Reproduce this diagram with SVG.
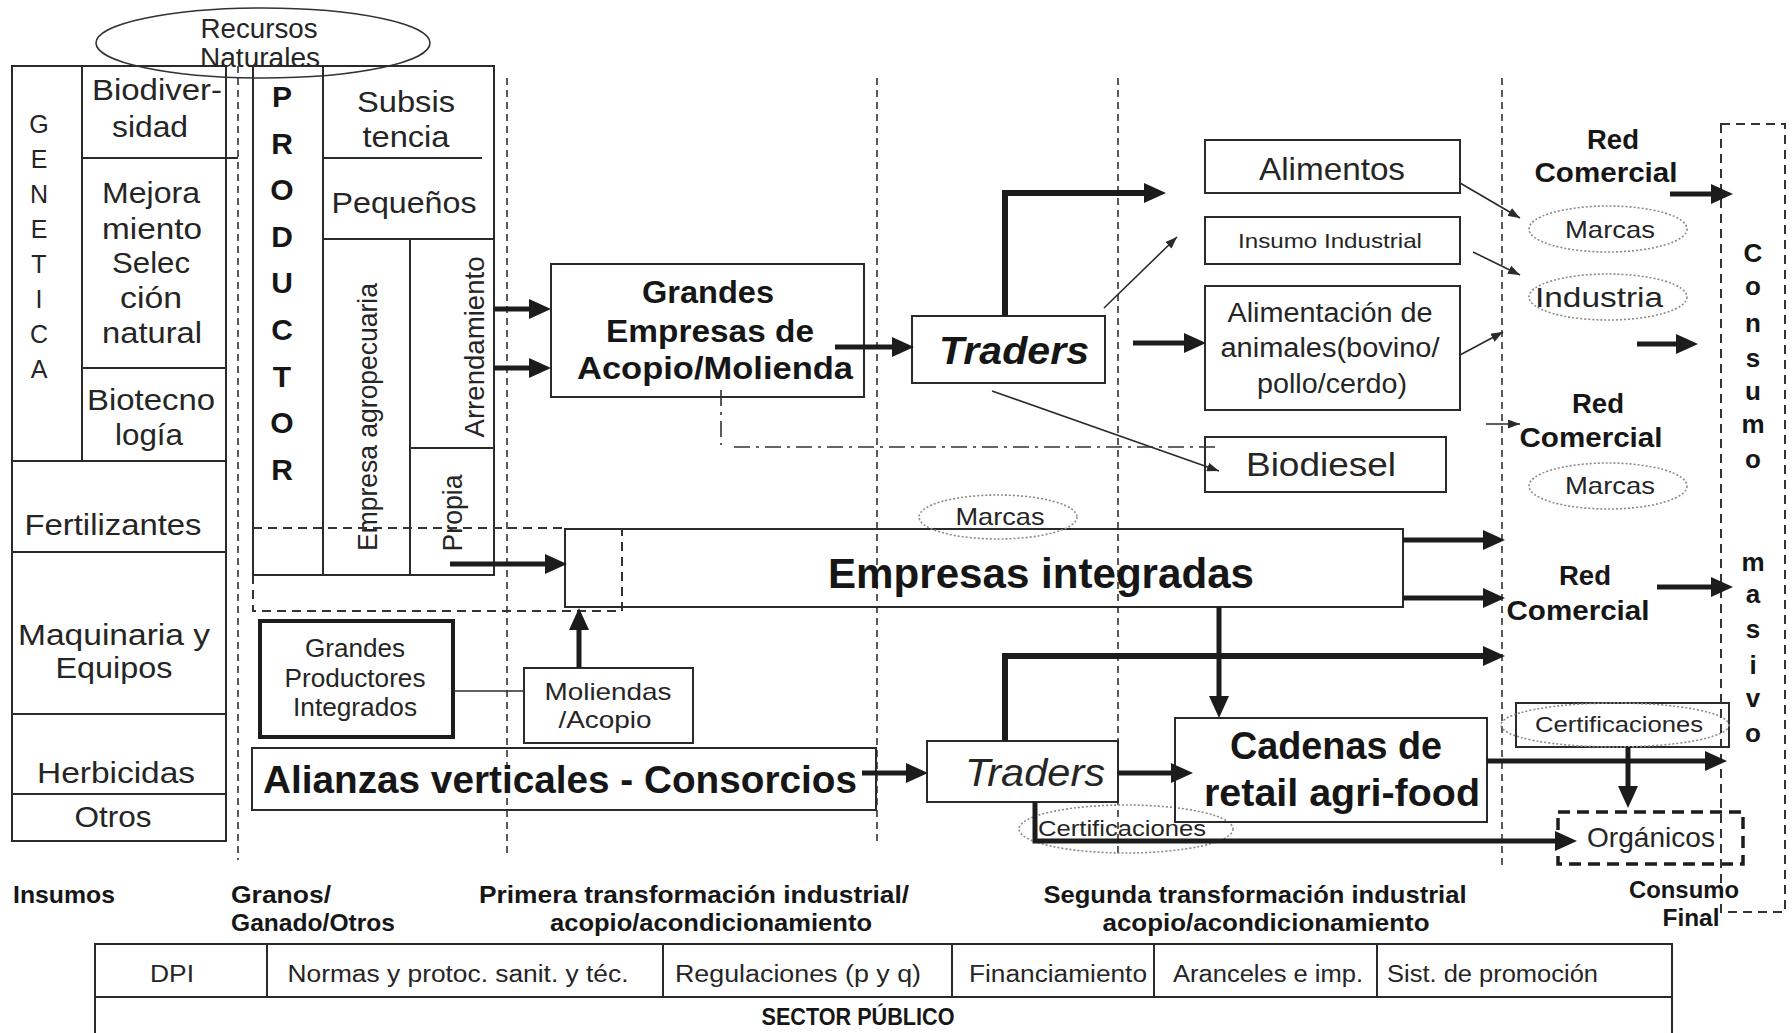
<svg xmlns="http://www.w3.org/2000/svg" width="1792" height="1033" viewBox="0 0 1792 1033">
<style>
text{font-family:"Liberation Sans",Arial,sans-serif;fill:#252525}
.b{font-weight:bold;fill:#161616}
.m{text-anchor:middle}
.box{fill:none;stroke:#2a2a2a;stroke-width:2}
.div{fill:none;stroke:#333;stroke-width:1.6;stroke-dasharray:7 5}
.thick{fill:none;stroke:#1c1c1c;stroke-width:6}
.med{fill:none;stroke:#1c1c1c;stroke-width:5}
.thin{fill:none;stroke:#2a2a2a;stroke-width:1.6}
.dot{fill:none;stroke:#8a8a8a;stroke-width:1.6;stroke-dasharray:2 2}
.t30{font-size:30px}
.t25{font-size:25px}
.cell{font-size:23px}
.lab{font-size:24px;font-weight:bold;fill:#161616}
.rc{font-size:27px;font-weight:bold;fill:#161616}
</style>
<defs>
<marker id="ab" viewBox="0 0 22 20" refX="15" refY="10" markerWidth="22" markerHeight="20" markerUnits="userSpaceOnUse" orient="auto"><path d="M0,0 L22,10 L0,20 z" fill="#1c1c1c"/></marker>
<marker id="as" viewBox="0 0 12 9" refX="12" refY="4.5" markerWidth="12" markerHeight="9" markerUnits="userSpaceOnUse" orient="auto"><path d="M0,0 L12,4.5 L0,9 z" fill="#2a2a2a"/></marker>
</defs>
<rect x="0" y="0" width="1792" height="1033" fill="#fff"/>

<g id="stage-dividers">
<path class="div" d="M238,66 V860 M507,78 V853 M877,78 V842 M1118,78 V853 M1502,78 V866"/>
</g>

<g id="insumos">
<rect class="box" x="12" y="66" width="214" height="775"/>
<path class="box" d="M82,66 V461 M82,158 H238 M82,368 H226 M12,461 H226 M12,552 H226 M12,714 H226 M12,794 H226"/>
<g class="t25" fill="#333">
<text x="39" y="133" class="m">G</text><text x="39" y="168" class="m">E</text><text x="39" y="203" class="m">N</text><text x="39" y="238" class="m">E</text><text x="39" y="273" class="m">T</text><text x="39" y="308" class="m">I</text><text x="39" y="343" class="m">C</text><text x="39" y="378" class="m">A</text>
</g>
<g class="t30">
<text x="157" y="100" class="m" textLength="130" lengthAdjust="spacingAndGlyphs">Biodiver-</text>
<text x="150" y="137" class="m" textLength="76" lengthAdjust="spacingAndGlyphs">sidad</text>
<text x="151" y="203" class="m" textLength="98" lengthAdjust="spacingAndGlyphs">Mejora</text>
<text x="152" y="239" class="m" textLength="100" lengthAdjust="spacingAndGlyphs">miento</text>
<text x="151" y="273" class="m" textLength="78" lengthAdjust="spacingAndGlyphs">Selec</text>
<text x="151" y="308" class="m" textLength="62" lengthAdjust="spacingAndGlyphs">ción</text>
<text x="152" y="343" class="m" textLength="100" lengthAdjust="spacingAndGlyphs">natural</text>
<text x="151" y="410" class="m" textLength="128" lengthAdjust="spacingAndGlyphs">Biotecno</text>
<text x="149" y="445" class="m" textLength="68" lengthAdjust="spacingAndGlyphs">logía</text>
<text x="113" y="535" class="m" textLength="177" lengthAdjust="spacingAndGlyphs">Fertilizantes</text>
<text x="114" y="645" class="m" textLength="192" lengthAdjust="spacingAndGlyphs">Maquinaria y</text>
<text x="114" y="678" class="m" textLength="117" lengthAdjust="spacingAndGlyphs">Equipos</text>
<text x="116" y="783" class="m" textLength="158" lengthAdjust="spacingAndGlyphs">Herbicidas</text>
<text x="113" y="827" class="m" textLength="77" lengthAdjust="spacingAndGlyphs">Otros</text>
</g>
</g>

<g id="recursos-naturales">
<ellipse cx="263" cy="43" rx="167" ry="35" fill="none" stroke="#333" stroke-width="1.6"/>
<text x="259" y="38" class="m" font-size="27px" textLength="117" lengthAdjust="spacingAndGlyphs">Recursos</text>
<text x="260" y="67" class="m" font-size="27px" textLength="120" lengthAdjust="spacingAndGlyphs">Naturales</text>
</g>

<g id="productor">
<rect class="box" x="253" y="66" width="241" height="509"/>
<path class="box" d="M323,66 V575 M323,158 H482 M323,239 H494 M410,239 V575 M410,448 H494"/>
<g font-size="30px">
<text x="282" y="107" class="m b">P</text><text x="282" y="154" class="m b">R</text><text x="282" y="200" class="m b">O</text><text x="282" y="247" class="m b">D</text><text x="282" y="293" class="m b">U</text><text x="282" y="340" class="m b">C</text><text x="282" y="387" class="m b">T</text><text x="282" y="433" class="m b">O</text><text x="282" y="480" class="m b">R</text>
</g>
<g class="t30">
<text x="406" y="112" class="m" textLength="98" lengthAdjust="spacingAndGlyphs">Subsis</text>
<text x="406" y="147" class="m" textLength="87" lengthAdjust="spacingAndGlyphs">tencia</text>
<text x="404" y="213" class="m" textLength="145" lengthAdjust="spacingAndGlyphs">Pequeños</text>
<text x="377" y="417" class="m" font-size="28px" textLength="268" lengthAdjust="spacingAndGlyphs" transform="rotate(-90 377 417)">Empresa agropecuaria</text>
<text x="484" y="347" class="m" font-size="28px" textLength="181" lengthAdjust="spacingAndGlyphs" transform="rotate(-90 484 347)">Arrendamiento</text>
<text x="462" y="513" class="m" font-size="28px" textLength="77" lengthAdjust="spacingAndGlyphs" transform="rotate(-90 462 513)">Propia</text>
</g>
<path d="M253,528 H565 M253,575 V611 H622 V529" fill="none" stroke="#333" stroke-width="2" stroke-dasharray="9 6"/>
</g>

<g id="grandes-empresas">
<rect class="box" x="551" y="264" width="313" height="133"/>
<text x="708" y="303" class="m b" font-size="32px" textLength="132" lengthAdjust="spacingAndGlyphs">Grandes</text>
<text x="710" y="342" class="m b" font-size="32px" textLength="208" lengthAdjust="spacingAndGlyphs">Empresas de</text>
<text x="715" y="379" class="m b" font-size="32px" textLength="276" lengthAdjust="spacingAndGlyphs">Acopio/Molienda</text>
</g>

<g id="traders-top">
<rect class="box" x="912" y="316" width="193" height="67"/>
<text x="939" y="364" class="b" font-size="39px" font-style="italic" textLength="150" lengthAdjust="spacingAndGlyphs">Traders</text>
</g>

<g id="alimentos">
<rect class="box" x="1205" y="140" width="255" height="53"/>
<text x="1332" y="180" class="m" font-size="32px" textLength="146" lengthAdjust="spacingAndGlyphs">Alimentos</text>
</g>
<g id="insumo-industrial">
<rect class="box" x="1205" y="217" width="255" height="47"/>
<text x="1330" y="248" class="m" font-size="21px" textLength="184" lengthAdjust="spacingAndGlyphs">Insumo Industrial</text>
</g>
<g id="alimentacion-animales">
<rect class="box" x="1205" y="286" width="255" height="124"/>
<text x="1330" y="322" class="m" font-size="27px" textLength="205" lengthAdjust="spacingAndGlyphs">Alimentación de</text>
<text x="1330" y="357" class="m" font-size="27px" textLength="219" lengthAdjust="spacingAndGlyphs">animales(bovino/</text>
<text x="1332" y="393" class="m" font-size="27px" textLength="150" lengthAdjust="spacingAndGlyphs">pollo/cerdo)</text>
</g>
<g id="biodiesel">
<rect class="box" x="1205" y="437" width="241" height="55"/>
<text x="1321" y="476" class="m" font-size="33px" textLength="150" lengthAdjust="spacingAndGlyphs">Biodiesel</text>
</g>

<g id="red-comercial-1">
<text x="1613" y="149" class="m rc" textLength="52" lengthAdjust="spacingAndGlyphs">Red</text>
<text x="1606" y="182" class="m rc" textLength="143" lengthAdjust="spacingAndGlyphs">Comercial</text>
</g>
<g id="marcas-1">
<ellipse class="dot" cx="1608" cy="229" rx="79" ry="23"/>
<text x="1610" y="238" class="m" font-size="24px" textLength="90" lengthAdjust="spacingAndGlyphs">Marcas</text>
</g>
<g id="industria">
<ellipse class="dot" cx="1608" cy="297" rx="79" ry="23"/>
<text x="1599" y="307" class="m" font-size="28px" textLength="128" lengthAdjust="spacingAndGlyphs">Industria</text>
</g>
<g id="red-comercial-2">
<text x="1598" y="413" class="m rc" textLength="52" lengthAdjust="spacingAndGlyphs">Red</text>
<text x="1591" y="447" class="m rc" textLength="143" lengthAdjust="spacingAndGlyphs">Comercial</text>
</g>
<g id="marcas-2">
<ellipse class="dot" cx="1608" cy="486" rx="79" ry="23"/>
<text x="1610" y="494" class="m" font-size="24px" textLength="90" lengthAdjust="spacingAndGlyphs">Marcas</text>
</g>

<g id="empresas-integradas">
<rect class="box" x="565" y="529" width="838" height="78"/>
<text x="1041" y="588" class="m b" font-size="42px" textLength="426" lengthAdjust="spacingAndGlyphs">Empresas integradas</text>
</g>
<g id="marcas-3">
<ellipse class="dot" cx="998" cy="517" rx="79" ry="22"/>
<text x="1000" y="525" class="m" font-size="24px" textLength="89" lengthAdjust="spacingAndGlyphs">Marcas</text>
</g>

<g id="red-comercial-3">
<text x="1585" y="585" class="m rc" textLength="52" lengthAdjust="spacingAndGlyphs">Red</text>
<text x="1578" y="620" class="m rc" textLength="143" lengthAdjust="spacingAndGlyphs">Comercial</text>
</g>

<g id="grandes-productores">
<rect x="260" y="621" width="193" height="116" fill="none" stroke="#1c1c1c" stroke-width="4"/>
<text x="355" y="657" class="m" font-size="25px" textLength="100" lengthAdjust="spacingAndGlyphs">Grandes</text>
<text x="355" y="687" class="m" font-size="25px" textLength="141" lengthAdjust="spacingAndGlyphs">Productores</text>
<text x="355" y="716" class="m" font-size="25px" textLength="124" lengthAdjust="spacingAndGlyphs">Integrados</text>
</g>
<g id="moliendas">
<rect class="box" x="524" y="668" width="169" height="75"/>
<text x="608" y="700" class="m" font-size="24px" textLength="127" lengthAdjust="spacingAndGlyphs">Moliendas</text>
<text x="605" y="728" class="m" font-size="24px" textLength="93" lengthAdjust="spacingAndGlyphs">/Acopio</text>
</g>
<g id="alianzas">
<rect class="box" x="252" y="748" width="624" height="62"/>
<text x="560" y="793" class="m b" font-size="38px" textLength="594" lengthAdjust="spacingAndGlyphs">Alianzas verticales - Consorcios</text>
</g>
<g id="traders-bottom">
<rect class="box" x="927" y="741" width="191" height="61"/>
<text x="965" y="786" font-size="39px" font-style="italic" textLength="140" lengthAdjust="spacingAndGlyphs">Traders</text>
</g>
<g id="certificaciones-1">
<ellipse class="dot" cx="1126" cy="829" rx="107" ry="24"/>
<text x="1122" y="836" class="m" font-size="22px" textLength="168" lengthAdjust="spacingAndGlyphs">Certificaciones</text>
</g>
<g id="cadenas-retail">
<rect class="box" x="1175" y="718" width="312" height="104"/>
<text x="1336" y="759" class="m b" font-size="38px" textLength="212" lengthAdjust="spacingAndGlyphs">Cadenas de</text>
<text x="1342" y="806" class="m b" font-size="38px" textLength="276" lengthAdjust="spacingAndGlyphs">retail agri-food</text>
</g>
<g id="certificaciones-2">
<rect class="box" x="1516" y="703" width="213" height="44"/>
<ellipse class="dot" cx="1615" cy="725" rx="114" ry="22"/>
<text x="1619" y="732" class="m" font-size="22px" textLength="168" lengthAdjust="spacingAndGlyphs">Certificaciones</text>
</g>
<g id="organicos">
<rect x="1558" y="812" width="185" height="52" fill="none" stroke="#1c1c1c" stroke-width="3.5" stroke-dasharray="12 7"/>
<text x="1651" y="847" class="m" font-size="28px" textLength="128" lengthAdjust="spacingAndGlyphs">Orgánicos</text>
</g>

<g id="consumo-masivo">
<rect x="1721" y="124" width="64" height="788" fill="none" stroke="#333" stroke-width="2" stroke-dasharray="9 6"/>
<g font-size="26px">
<text x="1753" y="262" class="m b">C</text><text x="1753" y="295" class="m b">o</text><text x="1753" y="332" class="m b">n</text><text x="1753" y="367" class="m b">s</text><text x="1753" y="400" class="m b">u</text><text x="1753" y="433" class="m b">m</text><text x="1753" y="468" class="m b">o</text>
<text x="1753" y="571" class="m b">m</text><text x="1753" y="603" class="m b">a</text><text x="1753" y="638" class="m b">s</text><text x="1753" y="674" class="m b">i</text><text x="1753" y="707" class="m b">v</text><text x="1753" y="742" class="m b">o</text>
</g>
</g>
<g id="consumo-final">
<text x="1684" y="898" class="m lab" textLength="110" lengthAdjust="spacingAndGlyphs">Consumo</text>
<text x="1691" y="926" class="m lab" textLength="57" lengthAdjust="spacingAndGlyphs">Final</text>
</g>

<g id="connectors">
<path class="med" d="M494,309 H544" marker-end="url(#ab)"/>
<path class="med" d="M494,368 H544" marker-end="url(#ab)"/>
<path class="med" d="M450,564 H560" marker-end="url(#ab)"/>
<path class="med" d="M579,668 V615" marker-end="url(#ab)"/>
<path class="med" d="M835,347 H907" marker-end="url(#ab)"/>
<path class="thick" d="M1005,316 V193 H1159" marker-end="url(#ab)"/>
<path class="thin" d="M1104,308 L1177,237" marker-end="url(#as)"/>
<path class="thin" d="M992,391 L1219,471" marker-end="url(#as)"/>
<path class="med" d="M1133,343 H1199" marker-end="url(#ab)"/>
<path class="thin" d="M1460,183 L1520,218" marker-end="url(#as)"/>
<path class="thin" d="M1473,252 L1520,275" marker-end="url(#as)"/>
<path class="thin" d="M1460,355 L1503,332" marker-end="url(#as)"/>
<path class="thin" d="M1486,424 H1520" marker-end="url(#as)"/>
<path class="med" d="M1670,194 H1726" marker-end="url(#ab)"/>
<path class="med" d="M1637,344 H1691" marker-end="url(#ab)"/>
<path class="med" d="M1403,540 H1498" marker-end="url(#ab)"/>
<path class="med" d="M1403,598 H1498" marker-end="url(#ab)"/>
<path class="thick" d="M1005,741 V656 H1498" marker-end="url(#ab)"/>
<path class="med" d="M1219,607 V711" marker-end="url(#ab)"/>
<path class="med" d="M1657,587 H1726" marker-end="url(#ab)"/>
<path class="med" d="M1487,761 H1720" marker-end="url(#ab)"/>
<path class="med" d="M1628,747 V801" marker-end="url(#ab)"/>
<path class="med" d="M1035,802 V841 H1570" marker-end="url(#ab)"/>
<path class="med" d="M862,773 H921" marker-end="url(#ab)"/>
<path class="med" d="M1118,773 H1186" marker-end="url(#ab)"/>
<path class="thin" d="M453,691 H524"/>
<path d="M721,390 V445 M734,447 H1215" fill="none" stroke="#333" stroke-width="1.6" stroke-dasharray="16 6 3 6"/>
</g>

<g id="stage-labels">
<text x="13" y="903" class="lab" textLength="102" lengthAdjust="spacingAndGlyphs">Insumos</text>
<text x="231" y="903" class="lab" textLength="100" lengthAdjust="spacingAndGlyphs">Granos/</text>
<text x="231" y="931" class="lab" textLength="164" lengthAdjust="spacingAndGlyphs">Ganado/Otros</text>
<text x="694" y="903" class="m lab" textLength="430" lengthAdjust="spacingAndGlyphs">Primera transformación industrial/</text>
<text x="711" y="931" class="m lab" textLength="322" lengthAdjust="spacingAndGlyphs">acopio/acondicionamiento</text>
<text x="1255" y="903" class="m lab" textLength="423" lengthAdjust="spacingAndGlyphs">Segunda transformación industrial</text>
<text x="1266" y="931" class="m lab" textLength="327" lengthAdjust="spacingAndGlyphs">acopio/acondicionamiento</text>
</g>

<g id="sector-publico">
<rect class="box" x="95" y="944" width="1577" height="120"/>
<path class="box" d="M95,997 H1672 M267,944 V997 M663,944 V997 M952,944 V997 M1154,944 V997 M1377,944 V997"/>
<text x="172" y="982" class="m cell" textLength="44" lengthAdjust="spacingAndGlyphs">DPI</text>
<text x="458" y="982" class="m cell" textLength="341" lengthAdjust="spacingAndGlyphs">Normas y protoc. sanit. y téc.</text>
<text x="798" y="982" class="m cell" textLength="246" lengthAdjust="spacingAndGlyphs">Regulaciones (p y q)</text>
<text x="1058" y="982" class="m cell" textLength="178" lengthAdjust="spacingAndGlyphs">Financiamiento</text>
<text x="1268" y="982" class="m cell" textLength="190" lengthAdjust="spacingAndGlyphs">Aranceles e imp.</text>
<text x="1387" y="982" class="cell" textLength="211" lengthAdjust="spacingAndGlyphs">Sist. de promoción</text>
<text x="858" y="1025" class="m lab" font-size="23px" textLength="193" lengthAdjust="spacingAndGlyphs">SECTOR PÚBLICO</text>
</g>
</svg>
